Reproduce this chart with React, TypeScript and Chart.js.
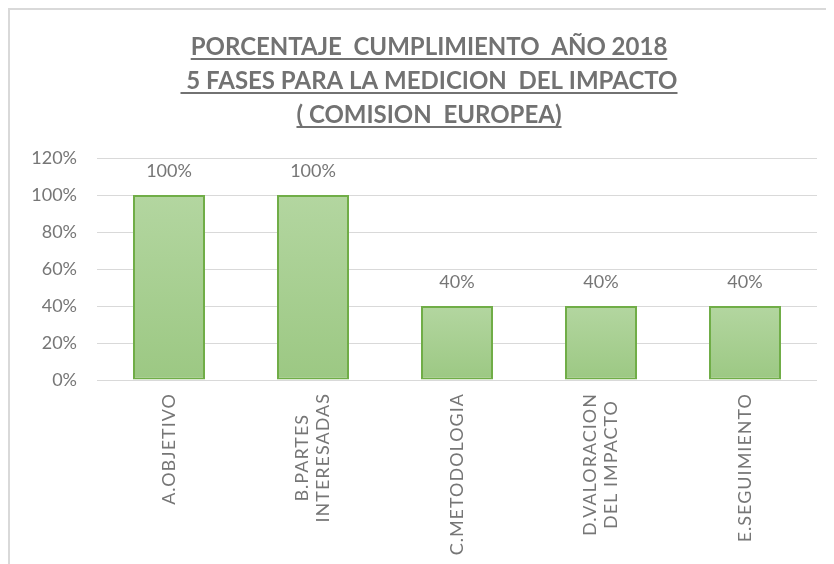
import React, { useEffect, useRef } from "react";
import { Chart, registerables } from "chart.js";

Chart.register(...registerables);

const titleLines = [
  "PORCENTAJE  CUMPLIMIENTO  AÑO 2018",
  " 5 FASES PARA LA MEDICION  DEL IMPACTO",
  "( COMISION  EUROPEA)",
];
const categories: string[][] = [
  ["A.OBJETIVO"],
  ["B.PARTES", "INTERESADAS"],
  ["C.METODOLOGIA"],
  ["D.VALORACION", "DEL IMPACTO"],
  ["E.SEGUIMIENTO"],
];
const values = [100, 100, 40, 40, 40];
const yMin = 0;
const yMax = 120;
const yStep = 20;

const FONT = "Lato, 'Open Sans', sans-serif";
const TEXT = "#767676";

const titlePlugin = {
  id: "titleUnderlined",
  afterDraw(chart: any) {
    const ctx = chart.ctx;
    ctx.save();
    ctx.font = `bold 24px ${FONT}`;
    ctx.fillStyle = "#727272";
    ctx.strokeStyle = "#727272";
    ctx.textAlign = "left";
    ctx.textBaseline = "alphabetic";
    const cx = chart.width / 2 + 7;
    const baselines = [45, 79, 113];
    titleLines.forEach((line, i) => {
      const w = ctx.measureText(line).width;
      const x0 = cx - w / 2;
      ctx.fillText(line, x0, baselines[i]);
      ctx.lineWidth = 2;
      ctx.beginPath();
      ctx.moveTo(x0, baselines[i] + 4);
      ctx.lineTo(x0 + w, baselines[i] + 4);
      ctx.stroke();
    });
    ctx.restore();
  },
};

const labelsPlugin = {
  id: "barLabels",
  afterDatasetsDraw(chart: any) {
    const ctx = chart.ctx;
    const meta = chart.getDatasetMeta(0);
    ctx.save();
    ctx.font = `18px ${FONT}`;
    ctx.fillStyle = TEXT;
    ctx.textAlign = "center";
    ctx.textBaseline = "alphabetic";
    meta.data.forEach((el: any, i: number) => {
      ctx.fillText(values[i] + "%", el.x, el.y - 18);
    });
    ctx.restore();
  },
};

const xLabelsPlugin = {
  id: "xLabels",
  afterDraw(chart: any) {
    const ctx = chart.ctx;
    const xs = chart.scales.x;
    const top = chart.chartArea.bottom + 13;
    const lh = 21;
    ctx.save();
    ctx.font = `18px ${FONT}`;
    try {
      (ctx as any).letterSpacing = "1px";
    } catch (e) {}
    ctx.fillStyle = TEXT;
    ctx.textAlign = "center";
    ctx.textBaseline = "middle";
    categories.forEach((lines, i) => {
      const x = xs.getPixelForValue(i);
      const maxW = Math.max(...lines.map((l) => ctx.measureText(l).width));
      const n = lines.length;
      lines.forEach((line, j) => {
        const off = (j - (n - 1) / 2) * lh;
        ctx.save();
        ctx.translate(x + off, top + maxW / 2);
        ctx.rotate(-Math.PI / 2);
        ctx.fillText(line, 0, 0);
        ctx.restore();
      });
    });
    ctx.restore();
  },
};

export default function App() {
  const ref = useRef<HTMLCanvasElement>(null);
  useEffect(() => {
    if (!ref.current) return;
    const chart = new Chart(ref.current, {
      type: "bar",
      data: {
        labels: categories.map((c) => c.join(" ")),
        datasets: [
          {
            data: values,
            backgroundColor: (c: any) => {
              const chart = c.chart;
              const ys = chart.scales && chart.scales.y;
              if (!ys || c.raw === undefined) return "#a6cd90";
              const t = ys.getPixelForValue(c.raw);
              const b = ys.getPixelForValue(0);
              if (!isFinite(t) || !isFinite(b) || t === b) return "#a6cd90";
              const g = chart.ctx.createLinearGradient(0, t, 0, b);
              g.addColorStop(0, "#b3d6a0");
              g.addColorStop(1, "#9cc883");
              return g;
            },
            borderColor: "#70ad47",
            borderWidth: 2,
            borderSkipped: false,
            categoryPercentage: 1,
            barPercentage: 0.5,
          },
        ],
      },
      options: {
        animation: false,
        responsive: true,
        maintainAspectRatio: false,
        layout: { padding: { top: 148, right: 17, left: 0, bottom: 0 } },
        plugins: {
          legend: { display: false },
          title: { display: false },
          tooltip: { enabled: false },
        },
        scales: {
          x: {
            grid: { display: false, drawTicks: false },
            border: { display: false },
            ticks: { display: false },
            afterFit: (s: any) => {
              s.height = 184;
            },
          },
          y: {
            min: yMin,
            max: yMax,
            grid: { color: "#d9d9d9", lineWidth: 1, drawTicks: false },
            border: { display: false },
            ticks: {
              stepSize: yStep,
              padding: 20,
              color: TEXT,
              font: { family: FONT, size: 18 },
              callback: (v: any) => v + "%",
            },
            afterFit: (s: any) => {
              s.width = 87;
            },
          },
        },
      },
      plugins: [titlePlugin, labelsPlugin, xLabelsPlugin],
    } as any);
    return () => chart.destroy();
  }, []);

  return (
    <div
      style={{
        width: 826,
        height: 556,
        borderTop: "2px solid #d9d9d9",
        borderLeft: "2px solid #d9d9d9",
        boxSizing: "border-box",
        background: "#fff",
      }}
    >
      <div style={{ width: 824, height: 554, position: "relative" }}>
        <canvas ref={ref} />
      </div>
    </div>
  );
}
